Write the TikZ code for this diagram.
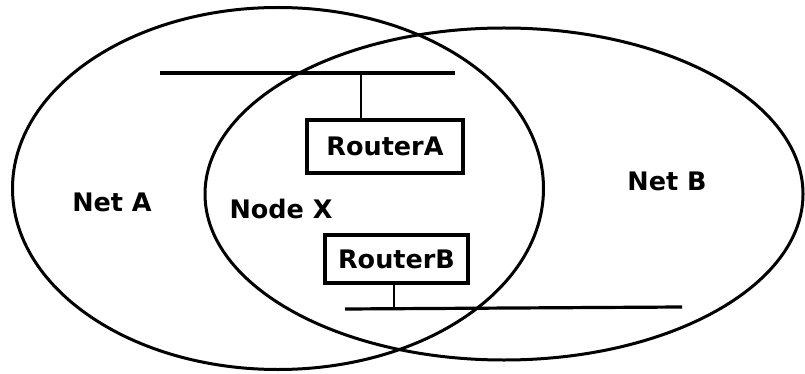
\documentclass[tikz,border=0pt]{standalone}
\usepackage{fontspec}
\setmainfont{DejaVu Sans}
\usetikzlibrary{shapes.geometric}
\tikzset{
  every picture/.style={x=1pt,y=-1pt},
  netshape/.style={draw, ellipse, line width=3pt, inner sep=0pt},
  routerbox/.style={draw, line width=3.2pt, inner sep=0pt, font=\fontsize{25.5}{28}\selectfont\bfseries},
  lbl/.style={font=\fontsize{25.5}{28}\selectfont\bfseries, inner sep=0pt},
  bus/.style={line width=3.2pt},
  tap/.style={line width=2.4pt}
}
\begin{document}
\begin{tikzpicture}
\useasboundingbox (0,0) rectangle (805,374);
\node[netshape, minimum width=531pt, minimum height=362pt] (netA) at (278,188.5) {};
\node[netshape, minimum width=598pt, minimum height=332pt] (netB) at (504,194) {};
% buses
\coordinate (busAl) at (160,73);
\coordinate (busAr) at (455,73);
\coordinate (busBl) at (345,309);
\coordinate (busBr) at (682,307);
\draw[bus] (busAl) -- (busAr);
\draw[bus] (busBl) -- (busBr);
% routers
\node[routerbox, minimum width=156pt, minimum height=53pt] (routerA) at (385,146.5) {RouterA};
\node[routerbox, minimum width=143pt, minimum height=48pt] (routerB) at (396.5,259) {RouterB};
\coordinate (tapA) at (361,73);
\coordinate (tapB) at (394,309);
\draw[tap] (tapA) -- (tapA |- routerA.north);
\draw[tap] (tapB) -- (tapB |- routerB.south);
% labels
\node[lbl] (lnetA) at (112,202) {Net A};
\node[lbl] (lnodeX) at (281,209) {Node X};
\node[lbl] (lnetB) at (667,181) {Net B};
\end{tikzpicture}
\end{document}
